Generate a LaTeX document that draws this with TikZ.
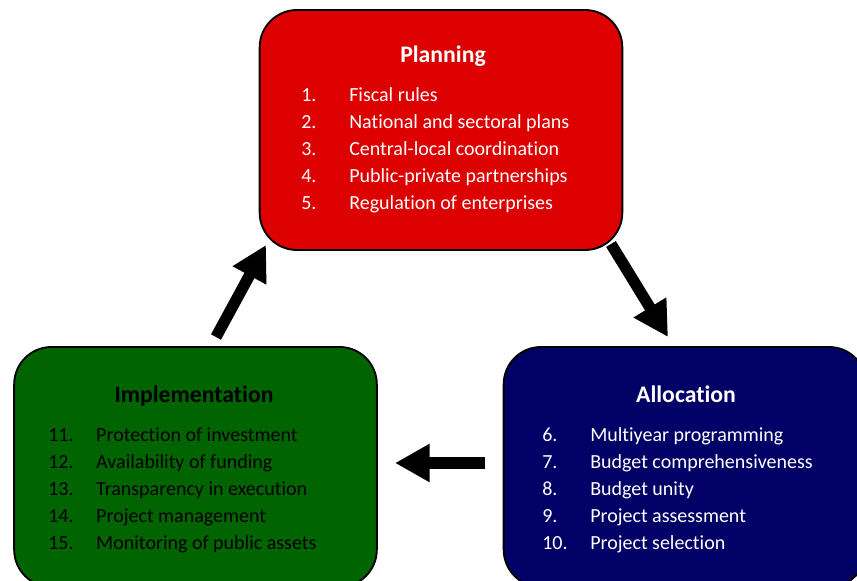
\documentclass[tikz,border=0pt]{standalone}
\usepackage{fontspec}
\setmainfont{Carlito}[Ligatures=NoCommon]
\usetikzlibrary{arrows.meta}
\definecolor{planred}{RGB}{221,0,0}
\definecolor{allocblue}{RGB}{0,0,102}
\definecolor{implgreen}{RGB}{0,100,0}
\tikzset{
  stagebox/.style={draw=black, line width=1.4pt, rounded corners=28pt,
    minimum width=272pt, minimum height=180pt},
  stagetitle/.style={anchor=base, font=\fontsize{17.8}{21}\selectfont\bfseries},
  stagelist/.style={anchor=base west, inner sep=0pt, font=\fontsize{15}{20.25}\selectfont},
  blockarrow/.style={line width=8.5pt, -{Triangle[length=26pt,width=27pt]}}
}
\begin{document}
\begin{tikzpicture}[x=0.75pt, y=-0.75pt]
  \useasboundingbox (0,0) rectangle (857,581);
  \clip (0,0) rectangle (857,581);
  % Stages
  \node[stagebox, fill=planred] (plan) at (441,130) {};
  \node[stagebox, fill=allocblue] (alloc) at (685,467) {};
  \node[stagebox, fill=implgreen] (impl) at (195.5,467) {};
  % Planning
  \node[stagetitle, white] (plantitle) at (443,63) {Planning};
  \node[stagelist, white] (planlist) at (301,101.5) {\begin{tabular}[t]{@{}p{36pt}@{}l@{}}
    1. & Fiscal rules\\
    2. & National and sectoral plans\\
    3. & Central-local coordination\\
    4. & Public-private partnerships\\
    5. & Regulation of enterprises
  \end{tabular}};
  % Allocation
  \node[stagetitle, white] (alloctitle) at (686,402) {Allocation};
  \node[stagelist, white] (alloclist) at (542,441) {\begin{tabular}[t]{@{}p{36pt}@{}l@{}}
    6. & Multiyear programming\\
    7. & Budget comprehensiveness\\
    8. & Budget unity\\
    9. & Project assessment\\
    10. & Project selection
  \end{tabular}};
  % Implementation
  \node[stagetitle, black] (impltitle) at (194,402) {Implementation};
  \node[stagelist, black] (impllist) at (48,441) {\begin{tabular}[t]{@{}p{36pt}@{}l@{}}
    11. & Protection of investment\\
    12. & Availability of funding\\
    13. & Transparency in execution\\
    14. & Project management\\
    15. & Monitoring of public assets
  \end{tabular}};
  % Cycle arrows
  \coordinate (pa) at (611,244);
  \coordinate (pb) at (668,337);
  \coordinate (aa) at (485,463);
  \coordinate (ab) at (395,463);
  \coordinate (ia) at (216,337);
  \coordinate (ib) at (266,245);
  \draw[blockarrow] (pa) -- (pb);
  \draw[blockarrow] (aa) -- (ab);
  \draw[blockarrow] (ia) -- (ib);
\end{tikzpicture}
\end{document}
